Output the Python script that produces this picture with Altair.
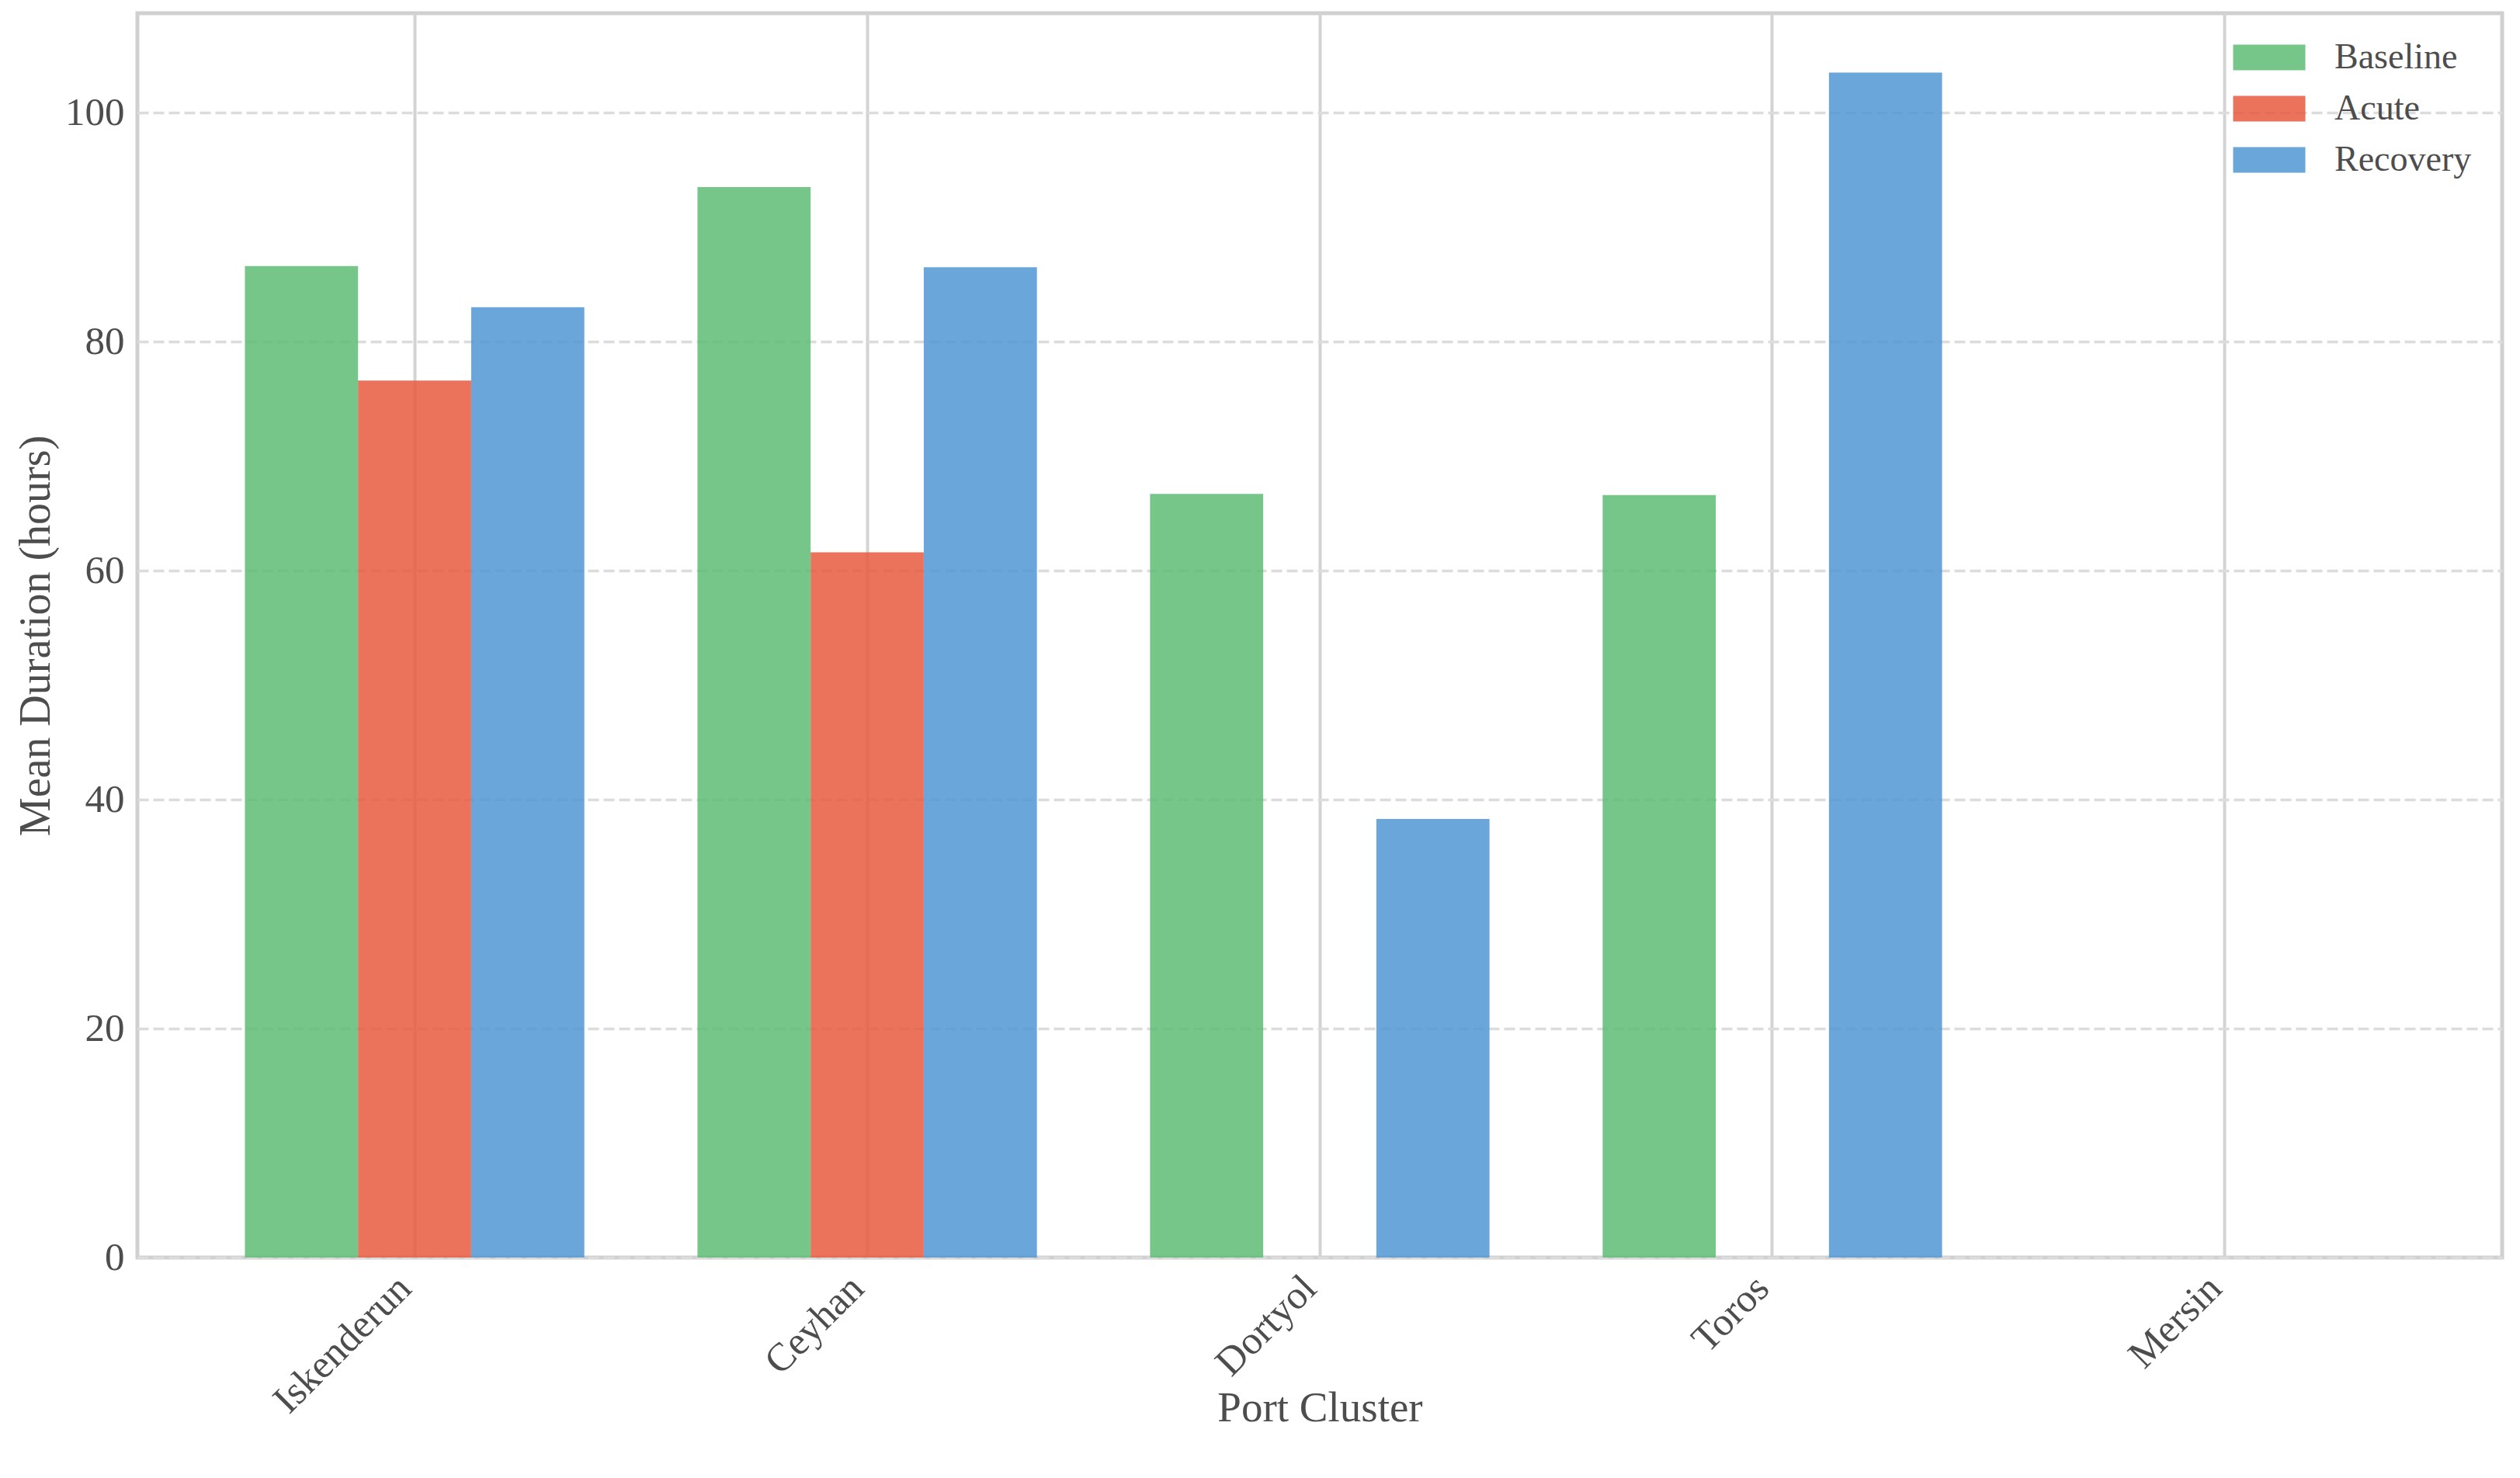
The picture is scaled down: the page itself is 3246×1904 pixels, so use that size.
import altair as alt
import pandas as pd

ports = ["Iskenderun", "Ceyhan", "Dortyol", "Toros", "Mersin"]
phases = ["Baseline", "Acute", "Recovery"]
colors = ["#5EBC75", "#E95A3E", "#5096D2"]

baseline = [86.6, 93.5, 66.7, 66.6, None]
acute = [76.6, 61.6, None, None, None]
recovery = [83.0, 86.5, 38.3, 103.5, None]

rows = []
for series_name, vals in zip(phases, [baseline, acute, recovery]):
    for p, v in zip(ports, vals):
        if v is not None:
            rows.append({"port": p, "phase": series_name, "value": v})
df = pd.DataFrame(rows)

FONT = "Liberation Serif"
TEXT = "#4D4D4D"
W, H = 3046, 1603

chart = alt.Chart(df).mark_bar(opacity=0.85).encode(
    x=alt.X(
        "port:N",
        sort=ports,
        scale=alt.Scale(domain=ports, paddingInner=0.25, paddingOuter=0.2375),
        axis=alt.Axis(
            title="Port Cluster",
            labelAngle=-45,
            labelAlign="right",
            labelBaseline="top",
            labelPadding=14,
            labelOffset=-30,
            labelFontSize=51,
            labelFont=FONT,
            labelColor=TEXT,
            labelLimit=0,
            ticks=False,
            domain=False,
            grid=True,
            gridColor="#d3d3d3",
            gridWidth=4,
            bandPosition=0.5,
            titleFont=FONT,
            titleFontSize=55,
            titleFontWeight="normal",
            titleColor=TEXT,
            titleY=210,
            titleBaseline="alphabetic",
        ),
    ),
    xOffset=alt.XOffset("phase:N", sort=phases,
                        scale=alt.Scale(domain=phases, paddingInner=0, paddingOuter=0)),
    y=alt.Y(
        "value:Q",
        scale=alt.Scale(domain=[0, 108.68], nice=False, zero=True),
        axis=alt.Axis(
            title="Mean Duration (hours)",
            values=[0, 20, 40, 60, 80, 100],
            labelFontSize=51,
            labelFont=FONT,
            labelColor=TEXT,
            labelPadding=17,
            labelLimit=0,
            ticks=False,
            domain=False,
            grid=True,
            gridColor="#dcdcdc",
            gridWidth=3.5,
            gridDash=[14, 6],
            titleFont=FONT,
            titleFontSize=56,
            titleFontWeight="normal",
            titleColor=TEXT,
            titleAngle=270,
            titleX=-131,
            titleY=H / 2,
            titleAlign="center",
            titleBaseline="middle",
        ),
    ),
    color=alt.Color(
        "phase:N",
        sort=phases,
        scale=alt.Scale(domain=phases, range=colors),
        legend=alt.Legend(
            title=None,
            orient="none",
            legendX=2723,
            legendY=34,
            padding=0,
            symbolType="M-2.82,-1L2.82,-1L2.82,1L-2.82,1Z",
            symbolSize=1089,
            symbolStrokeWidth=0,
            symbolOpacity=0.85,
            labelOffset=61,
            labelFont=FONT,
            labelFontSize=46,
            labelColor=TEXT,
            labelLimit=0,
            rowPadding=20,
        ),
    ),
).properties(
    width=W,
    height=H,
    background="white",
    padding={"left": 169, "top": 9, "right": 15, "bottom": 276},
    autosize=alt.AutoSizeParams(type="none"),
).configure_view(
    stroke="#d0d0d0",
    strokeWidth=5,
)

chart.save("out.html", embed_options={"renderer": "svg", "actions": False})
